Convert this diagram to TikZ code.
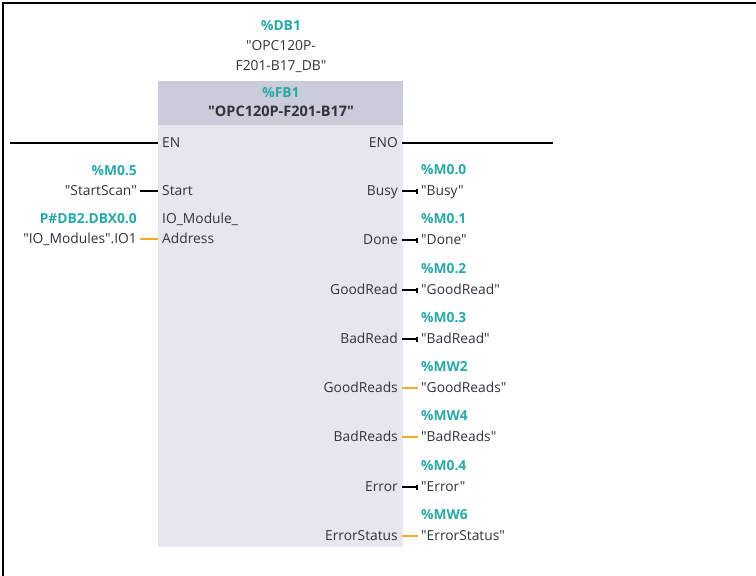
\documentclass[tikz,border=0pt]{standalone}
\usepackage{fontspec}
\setmainfont{Open Sans}[Ligatures=TeXOff]
\usepackage{tikz}
\usetikzlibrary{arrows.meta,calc}
\usepackage{xcolor}

\definecolor{addrteal}{RGB}{40,168,168}
\definecolor{wireorange}{RGB}{247,170,40}
\definecolor{headgray}{RGB}{202,204,218}
\definecolor{bodygray}{RGB}{229,230,238}
\definecolor{labelgray}{RGB}{50,50,58}

\tikzset{
    pin/.style={font=\fontsize{13.8}{16}\selectfont, text=labelgray, inner sep=4pt, text height=10pt, text depth=1pt},
    opnd/.style={font=\fontsize{13.8}{16}\selectfont, text=labelgray, inner sep=3pt, text height=10pt, text depth=1pt},
    addr/.style={font=\bfseries\fontsize{13.8}{16}\selectfont, text=addrteal, inner sep=3pt},
    boolwire/.style={line width=1.5pt, -{Bar[width=5pt,line width=1.6pt]}},
    wordwire/.style={wireorange, line width=1.5pt},
    enwire/.style={line width=2pt}
}

\begin{document}
\begin{tikzpicture}[x=1pt,y=-1pt]
    \useasboundingbox (0,0) rectangle (756,576);
    \draw[line width=1.5pt] (3,576) -- (3,3) -- (756,3);

    % instance data block
    \node[addr] (dbnum) at (281,26) {\%DB1};
    \node[opnd, font=\fontsize{13.8}{20}\selectfont, align=center, text height=, text depth=] (dbname) at (281,57) {"OPC120P-\\F201-B17\_DB"};

    % block body
    \node[fill=bodygray, anchor=north west, minimum width=245pt, minimum height=466pt, inner sep=0pt] (body) at (158,81) {};
    \node[fill=headgray, anchor=north west, minimum width=245pt, minimum height=44pt, inner sep=0pt] (head) at (158,81) {};
    \node[addr] (fbnum) at (281,93) {\%FB1};
    \node[opnd, font=\bfseries\fontsize{14.5}{16}\selectfont] (fbname) at (281,112) {"OPC120P-F201-B17"};

    % enable
    \node[pin, anchor=west] (en) at (158,143) {EN};
    \node[pin, anchor=east] (eno) at (402,143) {ENO};
    \coordinate (enin) at (10,143);
    \coordinate (enout) at (553,143);
    \draw[enwire] (enin) -- (en);
    \draw[enwire] (eno) -- (enout);

    % inputs
    \node[pin, anchor=west] (start) at (158,191) {Start};
    \node[opnd, anchor=east] (startval) at (140,191) {"StartScan"};
    \node[addr, anchor=east] at ($(startval.east)+(0,-20)$) {\%M0.5};
    \draw[line width=1.5pt] (startval) -- (start);

    \node[pin, anchor=west] (iomod) at (158,219) {IO\_Module\_};
    \node[pin, anchor=west] (address) at (158,239) {Address};
    \node[opnd, anchor=east] (ioval) at (140,239) {"IO\_Modules".IO1};
    \node[addr, anchor=east] at ($(ioval.east)+(0,-20)$) {P\#DB2.DBX0.0};
    \draw[wordwire] (ioval) -- (address);

    % outputs
    \node[pin, anchor=east] (busy) at (402,191) {Busy};
    \node[opnd, anchor=west] (busyval) at (418,191) {"Busy"};
    \node[addr, anchor=west] at ($(busyval.west)+(0,-21)$) {\%M0.0};
    \draw[boolwire] (busy) -- (busyval);

    \node[pin, anchor=east] (done) at (402,240) {Done};
    \node[opnd, anchor=west] (doneval) at (418,240) {"Done"};
    \node[addr, anchor=west] at ($(doneval.west)+(0,-21)$) {\%M0.1};
    \draw[boolwire] (done) -- (doneval);

    \node[pin, anchor=east] (goodread) at (402,290) {GoodRead};
    \node[opnd, anchor=west] (goodreadval) at (418,290) {"GoodRead"};
    \node[addr, anchor=west] at ($(goodreadval.west)+(0,-21)$) {\%M0.2};
    \draw[boolwire] (goodread) -- (goodreadval);

    \node[pin, anchor=east] (badread) at (402,339) {BadRead};
    \node[opnd, anchor=west] (badreadval) at (418,339) {"BadRead"};
    \node[addr, anchor=west] at ($(badreadval.west)+(0,-21)$) {\%M0.3};
    \draw[boolwire] (badread) -- (badreadval);

    \node[pin, anchor=east] (goodreads) at (402,388) {GoodReads};
    \node[opnd, anchor=west] (goodreadsval) at (418,388) {"GoodReads"};
    \node[addr, anchor=west] at ($(goodreadsval.west)+(0,-21)$) {\%MW2};
    \draw[wordwire] (goodreads) -- (goodreadsval);

    \node[pin, anchor=east] (badreads) at (402,437) {BadReads};
    \node[opnd, anchor=west] (badreadsval) at (418,437) {"BadReads"};
    \node[addr, anchor=west] at ($(badreadsval.west)+(0,-21)$) {\%MW4};
    \draw[wordwire] (badreads) -- (badreadsval);

    \node[pin, anchor=east] (error) at (402,487) {Error};
    \node[opnd, anchor=west] (errorval) at (418,487) {"Error"};
    \node[addr, anchor=west] at ($(errorval.west)+(0,-21)$) {\%M0.4};
    \draw[boolwire] (error) -- (errorval);

    \node[pin, anchor=east] (errstat) at (402,536) {ErrorStatus};
    \node[opnd, anchor=west] (errstatval) at (418,536) {"ErrorStatus"};
    \node[addr, anchor=west] at ($(errstatval.west)+(0,-21)$) {\%MW6};
    \draw[wordwire] (errstat) -- (errstatval);
\end{tikzpicture}
\end{document}
